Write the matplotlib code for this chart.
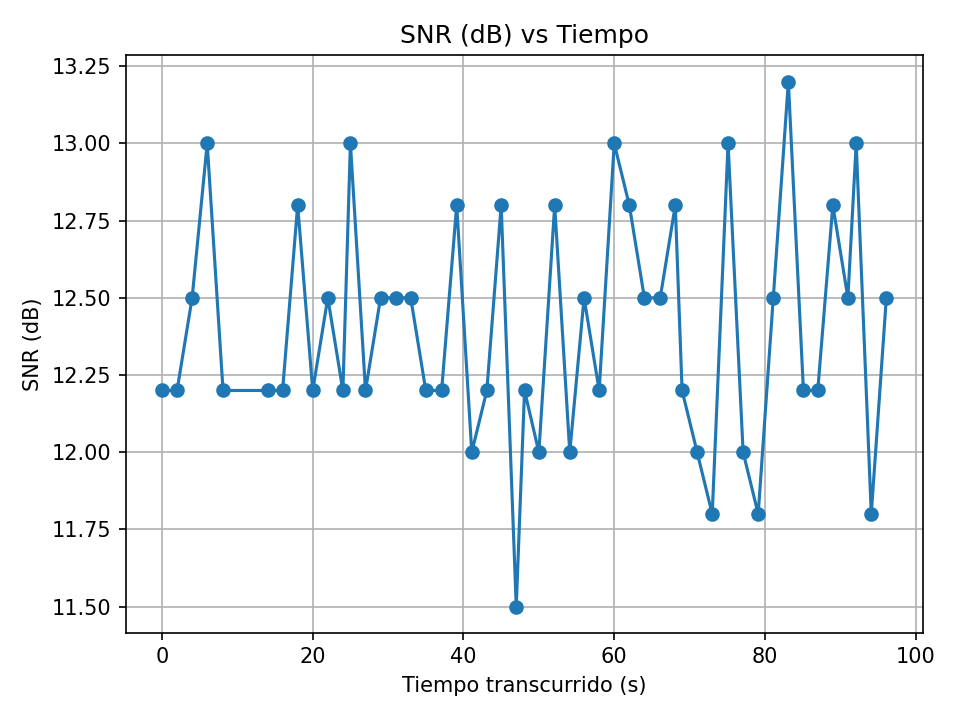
import matplotlib
matplotlib.use("Agg")
import matplotlib.pyplot as plt

# tiempos (s) y SNR (dB)
tiempo = [0.0, 2.0, 4.0, 6.0, 8.1, 14.0, 16.0, 18.0, 20.0, 22.0, 24.0, 25.0,
          27.0, 29.0, 31.0, 33.0, 35.0, 37.1, 39.1, 41.1, 43.1, 45.0, 47.0,
          48.1, 50.0, 52.1, 54.1, 56.0, 58.0, 60.0, 62.0, 64.0, 66.1, 68.1,
          69.0, 71.0, 73.0, 75.1, 77.1, 79.1, 81.1, 83.1, 85.1, 87.0, 89.0,
          91.0, 92.1, 94.1, 96.1]
snr = [12.2, 12.2, 12.5, 13.0, 12.2, 12.2, 12.2, 12.8, 12.2, 12.5, 12.2, 13.0,
       12.2, 12.5, 12.5, 12.5, 12.2, 12.2, 12.8, 12.0, 12.2, 12.8, 11.5,
       12.2, 12.0, 12.8, 12.0, 12.5, 12.2, 13.0, 12.8, 12.5, 12.5, 12.8,
       12.2, 12.0, 11.8, 13.0, 12.0, 11.8, 12.5, 13.2, 12.2, 12.2, 12.8,
       12.5, 13.0, 11.8, 12.5]

plt.figure(figsize=(6.4, 4.8), dpi=150)
plt.plot(tiempo, snr, marker='o')
plt.title("SNR (dB) vs Tiempo")
plt.xlabel("Tiempo transcurrido (s)")
plt.ylabel("SNR (dB)")
plt.grid(True)
plt.subplots_adjust(left=0.131, right=0.961, top=0.923, bottom=0.121)
plt.savefig("out.png", dpi=150)
